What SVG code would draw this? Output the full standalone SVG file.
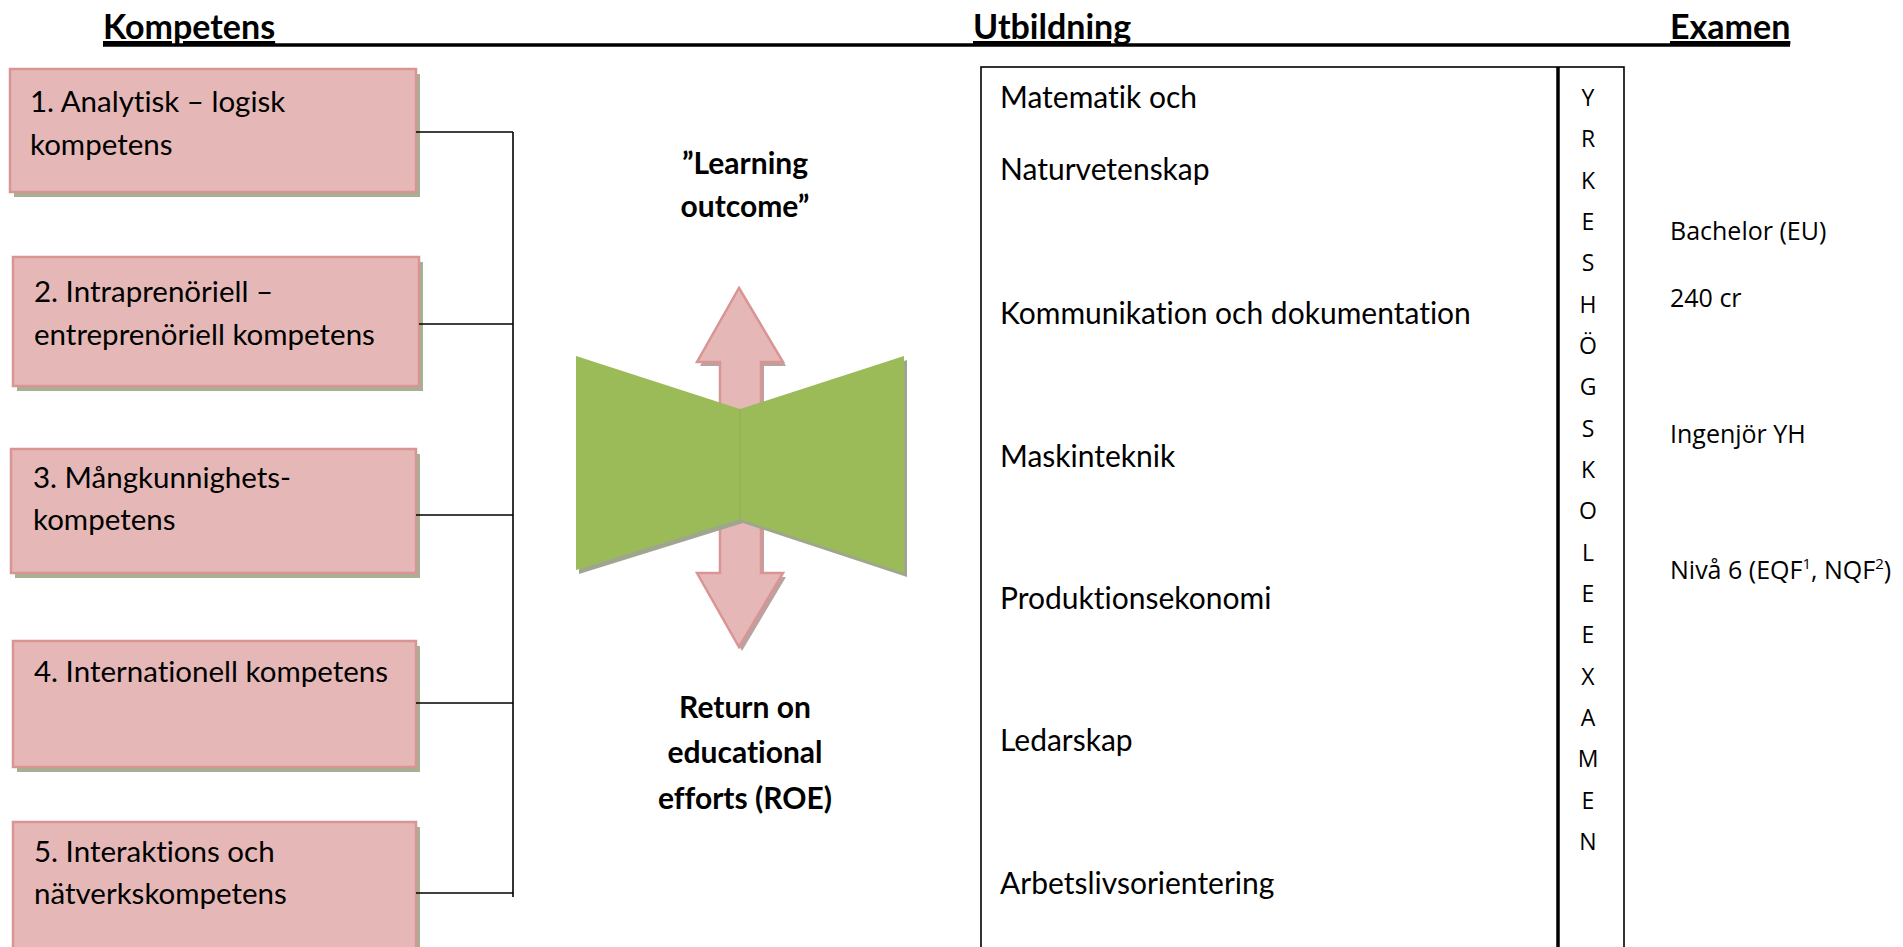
<svg xmlns="http://www.w3.org/2000/svg" width="1903" height="947" viewBox="0 0 1903 947">
<style>
text{font-variant-ligatures:none}
.hd{font-family:Lato,"Liberation Sans",sans-serif;font-weight:bold;font-size:34px;fill:#000;text-decoration:underline}
.bx{fill:#E5B8B7;stroke:#D99594;stroke-width:2.5}
.sh{fill:#A6B093}
.bt{font-family:Lato,"Liberation Sans",sans-serif;font-size:29.5px;fill:#000}
.tt{font-family:Lato,"Liberation Sans",sans-serif;font-size:30px;fill:#000}
.bl{font-family:Lato,"Liberation Sans",sans-serif;font-weight:bold;font-size:30px;fill:#000;text-anchor:middle}
.ex{font-family:"Open Sans","Noto Sans",sans-serif;font-size:25px;fill:#000}
.vl{font-family:"Open Sans","Noto Sans",sans-serif;font-size:23px;fill:#000;text-anchor:middle}
.cn{stroke:#000;stroke-width:1.6;fill:none}
</style>
<rect x="0" y="0" width="1903" height="947" fill="#fff"/>
<g id="headings">
<line x1="103" y1="45" x2="1790" y2="45" stroke="#000" stroke-width="3.5"/>
<text x="103" y="39" class="hd">Kompetens</text>
<text x="973" y="39" class="hd">Utbildning</text>
<text x="1670" y="39" class="hd">Examen</text>
</g>
<g id="box1">
<rect x="14" y="74" width="406" height="123" class="sh"/>
<rect x="10" y="69" width="406" height="123" class="bx"/>
<text x="30" y="112" class="bt">1. Analytisk – logisk</text>
<text x="30" y="155" class="bt">kompetens</text>
</g>
<g id="box2">
<rect x="17" y="262" width="406" height="129" class="sh"/>
<rect x="13" y="257" width="406" height="129" class="bx"/>
<text x="34" y="302" class="bt">2. Intraprenöriell –</text>
<text x="34" y="345" class="bt">entreprenöriell kompetens</text>
</g>
<g id="box3">
<rect x="15" y="454" width="405" height="124" class="sh"/>
<rect x="11" y="449" width="405" height="124" class="bx"/>
<text x="33" y="488" class="bt">3. Mångkunnighets-</text>
<text x="33" y="530" class="bt">kompetens</text>
</g>
<g id="box4">
<rect x="17" y="646" width="403" height="126" class="sh"/>
<rect x="13" y="641" width="403" height="126" class="bx"/>
<text x="34" y="682" class="bt">4. Internationell kompetens</text>
</g>
<g id="box5">
<rect x="17" y="827" width="403" height="140" class="sh"/>
<rect x="13" y="822" width="403" height="140" class="bx"/>
<text x="34" y="862" class="bt">5. Interaktions och</text>
<text x="34" y="904" class="bt">nätverkskompetens</text>
</g>
<g id="connectors">
<line x1="513" y1="132" x2="513" y2="897" class="cn"/>
<line x1="416" y1="132" x2="513" y2="132" class="cn"/>
<line x1="419" y1="324" x2="513" y2="324" class="cn"/>
<line x1="416" y1="515" x2="513" y2="515" class="cn"/>
<line x1="416" y1="703" x2="513" y2="703" class="cn"/>
<line x1="416" y1="893" x2="513" y2="893" class="cn"/>
</g>
<g id="learning-outcome">
<text x="745" y="174" class="bl">”Learning</text>
<text x="745" y="217" class="bl">outcome”</text>
</g>
<g id="double-arrow">
<path d="M742 292 L786 366 L764 366 L764 577 L786 577 L742 651 L700 577 L723 577 L723 366 L700 366 Z" fill="#B9A3A2"/>
<path d="M739 288 L783 362 L761 362 L761 573 L783 573 L739 647 L697 573 L720 573 L720 362 L697 362 Z" fill="#E5B8B7" stroke="#D99594" stroke-width="2.5"/>
</g>
<g id="bowtie">
<path d="M579 360 L743 413 L743 523 L579 574 Z" fill="#9FA68E"/>
<path d="M743 413 L907 360 L907 577 L743 523 Z" fill="#9FA68E"/>
<path d="M576 356 L740 409 L740 519 L576 570 Z" fill="#9BBB59"/>
<path d="M740 409 L904 356 L904 573 L740 519 Z" fill="#9BBB59"/>
<line x1="740" y1="409" x2="740" y2="519" stroke="#8FAE52" stroke-width="1"/>
</g>
<g id="roe">
<text x="745" y="718" class="bl">Return on</text>
<text x="745" y="763" class="bl">educational</text>
<text x="745" y="809" class="bl">efforts (ROE)</text>
</g>
<g id="utbildning">
<rect x="981" y="67" width="643" height="900" fill="none" stroke="#000" stroke-width="1.6"/>
<line x1="1558" y1="67" x2="1558" y2="947" stroke="#000" stroke-width="3.5"/>
<text x="1000" y="108" class="tt">Matematik och</text>
<text x="1000" y="180" class="tt">Naturvetenskap</text>
<text x="1000" y="324" class="tt">Kommunikation och dokumentation</text>
<text x="1000" y="467" class="tt">Maskinteknik</text>
<text x="1000" y="609" class="tt">Produktionsekonomi</text>
<text x="1000" y="751" class="tt">Ledarskap</text>
<text x="1000" y="894" class="tt">Arbetslivsorientering</text>
</g>
<g id="yrkeshogskoleexamen">
<text x="1588" y="106" class="vl">Y</text>
<text x="1588" y="147" class="vl">R</text>
<text x="1588" y="189" class="vl">K</text>
<text x="1588" y="230" class="vl">E</text>
<text x="1588" y="271" class="vl">S</text>
<text x="1588" y="313" class="vl">H</text>
<text x="1588" y="354" class="vl">Ö</text>
<text x="1588" y="395" class="vl">G</text>
<text x="1588" y="437" class="vl">S</text>
<text x="1588" y="478" class="vl">K</text>
<text x="1588" y="519" class="vl">O</text>
<text x="1588" y="561" class="vl">L</text>
<text x="1588" y="602" class="vl">E</text>
<text x="1588" y="643" class="vl">E</text>
<text x="1588" y="685" class="vl">X</text>
<text x="1588" y="726" class="vl">A</text>
<text x="1588" y="767" class="vl">M</text>
<text x="1588" y="809" class="vl">E</text>
<text x="1588" y="850" class="vl">N</text>
</g>
<g id="examen">
<text x="1670" y="240" class="ex">Bachelor (EU)</text>
<text x="1670" y="307" class="ex">240 cr</text>
<text x="1670" y="443" class="ex">Ingenjör YH</text>
<text x="1670" y="579" class="ex">Nivå 6 (EQF<tspan dy="-10" font-size="15">1</tspan><tspan dy="10">, NQF</tspan><tspan dy="-10" font-size="15">2</tspan><tspan dy="10">)</tspan></text>
</g>
</svg>
